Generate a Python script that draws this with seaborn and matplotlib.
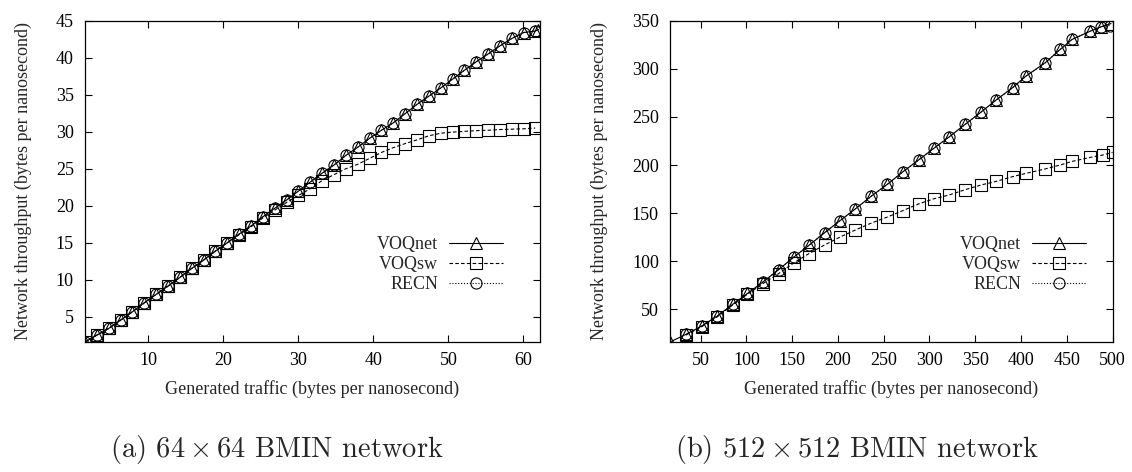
import matplotlib
matplotlib.use("Agg")
import matplotlib.pyplot as plt
import seaborn as sns

# ---- 64 x 64 BMIN network -------------------------------------------------
gen64 = [1.56, 3.14, 4.72, 6.30, 7.88, 9.46, 11.04, 12.62, 14.20, 15.78,
         17.36, 18.94, 20.52, 22.10, 23.68, 25.26, 26.84, 28.42, 30.00, 31.58,
         33.16, 34.74, 36.32, 37.90, 39.48, 41.06, 42.64, 44.22, 45.80, 47.38,
         48.96, 50.54, 52.12, 53.70, 55.28, 56.86, 58.44, 60.02, 61.56]
gen64_voqnet = gen64 + [62.00]
thr64_voqnet = [1.60, 2.53, 3.43, 4.55, 5.68, 6.89, 8.03, 9.15, 10.32, 11.54,
                12.66, 13.88, 15.00, 16.18, 17.26, 18.51, 19.65, 20.77, 21.99, 23.20,
                24.40, 25.50, 26.80, 27.90, 29.10, 30.20, 31.20, 32.44, 33.70, 34.80,
                35.90, 37.10, 38.30, 39.45, 40.50, 41.60, 42.60, 43.40, 43.60, 43.80]
thr64_voqsw = [1.60, 2.53, 3.43, 4.55, 5.68, 6.89, 8.03, 9.15, 10.32, 11.54,
               12.66, 13.88, 15.00, 16.10, 17.15, 18.35, 19.40, 20.45, 21.40, 22.30,
               23.40, 24.20, 25.00, 25.60, 26.40, 27.20, 27.85, 28.40, 28.90, 29.45,
               29.80, 29.95, 30.05, 30.15, 30.20, 30.30, 30.35, 30.40, 30.50]
thr64_recn = [1.60, 2.53, 3.43, 4.55, 5.68, 6.89, 8.03, 9.15, 10.32, 11.54,
              12.66, 13.88, 15.00, 16.18, 17.26, 18.51, 19.65, 20.77, 21.99, 23.20,
              24.40, 25.50, 26.80, 27.90, 29.10, 30.20, 31.20, 32.44, 33.70, 34.80,
              35.90, 37.10, 38.30, 39.45, 40.50, 41.60, 42.60, 43.40, 43.65]

# ---- 512 x 512 BMIN network -----------------------------------------------
gen512_recn = [34.0, 51.1, 68.1, 84.9, 101.2, 118.2, 135.3, 152.0, 168.3, 185.4,
               202.5, 219.2, 236.3, 254.0, 271.2, 288.2, 304.6, 321.7, 339.2, 356.7,
               373.0, 390.8, 405.5, 426.5, 442.9, 455.7, 475.7, 487.3, 496.7]
thr512_recn = [24.1, 32.7, 43.1, 55.2, 66.6, 78.6, 91.4, 104.5, 116.6, 129.7,
               142.4, 154.6, 167.6, 180.0, 193.2, 205.3, 217.3, 229.4, 242.5, 255.3,
               267.7, 280.4, 292.5, 306.3, 320.2, 330.5, 339.1, 343.6, 345.0]
gen512_voqnet = [16.6] + gen512_recn[:28] + [498.3]
thr512_voqnet = [16.2] + thr512_recn[:28] + [347.0]
gen512_voqsw = gen512_recn[:27] + [489.5, 500.0]
thr512_voqsw = [23.4, 32.0, 42.3, 54.5, 65.8, 76.9, 87.3, 98.5, 108.0, 117.0,
                125.3, 132.6, 139.7, 146.0, 152.8, 159.7, 164.9, 169.0, 174.5, 179.4,
                183.1, 188.0, 191.4, 196.0, 200.1, 203.8, 208.0, 210.5, 213.1]

xticks64 = [10, 20, 30, 40, 50, 60]
yticks64 = [5, 10, 15, 20, 25, 30, 35, 40, 45]
xticks512 = [50, 100, 150, 200, 250, 300, 350, 400, 450, 500]
yticks512 = [50, 100, 150, 200, 250, 300, 350]

xlabel = "Generated traffic (bytes per nanosecond)"
ylabel = "Network throughput (bytes per nanosecond)"
captions = [r"(a) $64\times64$ BMIN network", r"(b) $512\times512$ BMIN network"]

sns.set_theme(style="ticks")
plt.rcParams["font.family"] = ["Liberation Serif", "DejaVu Serif"]
plt.rcParams["mathtext.fontset"] = "cm"
plt.rcParams["axes.linewidth"] = 0.9
FS = 13

fig = plt.figure(figsize=(11.32, 4.72), dpi=100)
W, H = 1132, 472
ax1 = fig.add_axes([85 / W, 1 - 342 / H, (540 - 85) / W, (342 - 20.7) / H])
ax2 = fig.add_axes([670 / W, 1 - 342 / H, (1113 - 670) / W, (342 - 20.7) / H])

styles = {
    "VOQnet": dict(marker="^", linestyle="-"),
    "VOQsw": dict(marker="s", linestyle=(0, (3.2, 2.0))),
    "RECN": dict(marker="o", linestyle=(0, (1.0, 1.6))),
}


def draw(ax, series, xlim, ylim, xticks, yticks, legend_anchor):
    for name, x, y in series:
        sns.lineplot(x=x, y=y, ax=ax, color="black", lw=0.8, markersize=8,
                     markerfacecolor="none", markeredgecolor="black",
                     markeredgewidth=0.8, label=name, estimator=None,
                     **styles[name])
    ax.set_xlim(*xlim)
    ax.set_ylim(*ylim)
    ax.set_xticks(xticks)
    ax.set_yticks(yticks)
    ax.tick_params(direction="in", length=5, width=0.8, top=True, right=True,
                   labelsize=FS, colors="black")
    ax.tick_params(axis="x", pad=7)
    ax.tick_params(axis="y", pad=8)
    for s in ax.spines.values():
        s.set_visible(True)
        s.set_color("black")
    ax.set_xlabel(xlabel, fontsize=FS, labelpad=8)
    ax.set_ylabel(ylabel, fontsize=FS, labelpad=17)
    ax.legend(loc="upper right", bbox_to_anchor=legend_anchor, frameon=False,
              fontsize=FS, markerfirst=False, handlelength=3.0,
              handletextpad=0.6, labelspacing=0.15, borderpad=0,
              borderaxespad=0, numpoints=1)


draw(ax1,
     [("VOQnet", gen64_voqnet, thr64_voqnet),
      ("VOQsw", gen64, thr64_voqsw),
      ("RECN", gen64, thr64_recn)],
     (1.56, 62.2), (1.6, 45), xticks64, yticks64, (0.9187, 0.3284))
draw(ax2,
     [("VOQnet", gen512_voqnet, thr512_voqnet),
      ("VOQsw", gen512_voqsw, thr512_voqsw),
      ("RECN", gen512_recn, thr512_recn)],
     (16.6, 500.5), (16.2, 350), xticks512, yticks512, (0.939, 0.3284))

fig.text(277 / W, 1 - 450 / H, captions[0], fontfamily="cmr10", fontsize=20.5,
         ha="center", va="center")
fig.text(857 / W, 1 - 450 / H, captions[1], fontfamily="cmr10", fontsize=20.5,
         ha="center", va="center")

fig.savefig("out.png", dpi=100, facecolor="white")
